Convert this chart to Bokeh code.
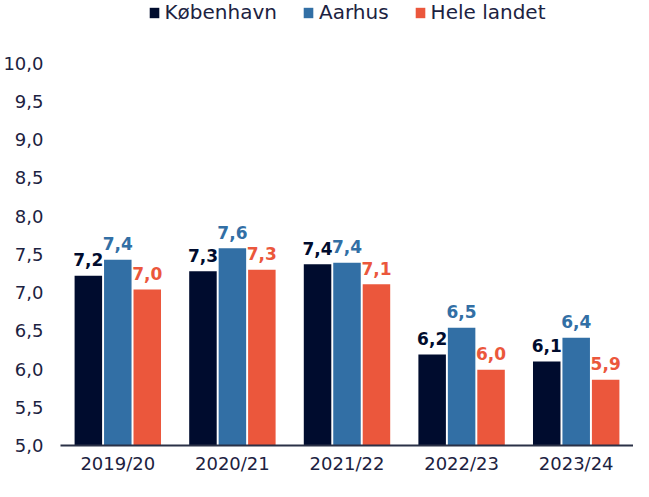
from bokeh.plotting import figure
from bokeh.models import ColumnDataSource, Range1d, FixedTicker, Legend, LegendItem
from bokeh.transform import dodge
from bokeh.core.properties import value
from bokeh.embed import file_html
from bokeh.resources import INLINE

categories = ["2019/20", "2020/21", "2021/22", "2022/23", "2023/24"]
series_names = ["København", "Aarhus", "Hele landet"]
kobenhavn = [7.22, 7.28, 7.37, 6.19, 6.10]
aarhus = [7.43, 7.58, 7.39, 6.54, 6.41]
hele_landet = [7.04, 7.30, 7.11, 5.99, 5.86]
y_ticks = [5.0, 5.5, 6.0, 6.5, 7.0, 7.5, 8.0, 8.5, 9.0, 9.5, 10.0]

colors = ["#000c2e", "#326fa5", "#eb573c"]
text_color = "#1c2241"
FONT = "DejaVu Sans"

W, H = 633, 481
LEFT, BOTTOM = 58, 36


def fmt(v):
    return f"{v:.1f}".replace(".", ",")


src = ColumnDataSource(dict(
    cat=categories,
    k=kobenhavn, a=aarhus, h=hele_landet,
    kl=[fmt(v) for v in kobenhavn],
    al=[fmt(v) for v in aarhus],
    hl=[fmt(v) for v in hele_landet],
))

p = figure(x_range=categories, y_range=Range1d(5, 10.82), width=W, height=H,
           output_backend="svg", toolbar_location=None,
           min_border_left=LEFT, min_border_right=0, min_border_top=0, min_border_bottom=BOTTOM)
p.outline_line_color = None
p.grid.grid_line_color = None
p.x_range.range_padding = 0

offsets = [-0.257, 0.0, 0.257]
fields = [("k", "kl"), ("a", "al"), ("h", "hl")]
renderers = []
for (f, lf), off, c in zip(fields, offsets, colors):
    r = p.vbar(x=dodge("cat", off, range=p.x_range), top=f, bottom=5, width=0.24,
               source=src, color=c, line_color=None)
    renderers.append(r)
    p.text(x=dodge("cat", off, range=p.x_range), y=f, text=lf, source=src,
           text_align="center", text_baseline="alphabetic", y_offset=-16,
           text_font=value(FONT), text_font_style="bold", text_font_size="17px",
           text_color=c)

p.yaxis.ticker = FixedTicker(ticks=y_ticks)
p.yaxis.major_label_overrides = {t: fmt(t) for t in y_ticks}
p.yaxis.axis_line_color = None
p.yaxis.major_tick_line_color = None
p.yaxis.minor_tick_line_color = None
p.yaxis.major_tick_out = 0
p.yaxis.major_tick_in = 0
p.yaxis.minor_tick_out = 0
p.yaxis.major_label_standoff = 17
p.yaxis.major_label_text_font = FONT
p.yaxis.major_label_text_font_size = "18px"
p.yaxis.major_label_text_color = text_color

p.xaxis.axis_line_color = "#2a3147"
p.xaxis.axis_line_width = 2
p.xaxis.major_tick_line_color = None
p.xaxis.minor_tick_line_color = None
p.xaxis.major_tick_out = 0
p.xaxis.major_tick_in = 0
p.xaxis.minor_tick_out = 0
p.xaxis.major_label_standoff = 7
p.xaxis.major_label_text_font = FONT
p.xaxis.major_label_text_font_size = "18px"
p.xaxis.major_label_text_color = text_color

legend = Legend(items=[LegendItem(label=n, renderers=[r]) for n, r in zip(series_names, renderers)],
                orientation="horizontal", location="top_center")
legend.label_text_font = FONT
legend.label_text_font_size = "20px"
legend.label_text_color = text_color
legend.glyph_width = 12
legend.glyph_height = 13
legend.label_standoff = 5
legend.spacing = 25
legend.padding = 0
legend.margin = 0
legend.border_line_color = None
legend.background_fill_alpha = 0
p.add_layout(legend)

open("out.html", "w").write(file_html(p, INLINE))
